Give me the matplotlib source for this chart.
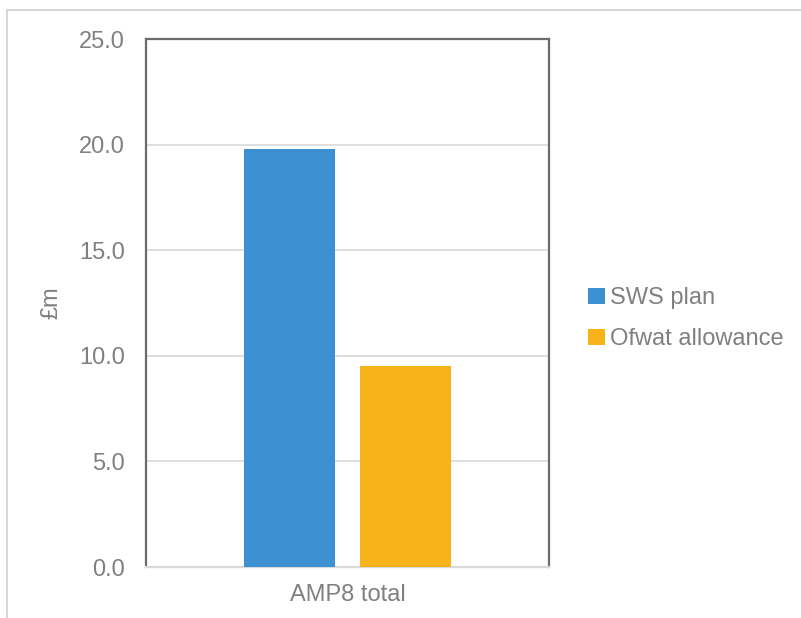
import matplotlib.pyplot as plt
from matplotlib.lines import Line2D

plt.rcParams['font.family'] = ['Liberation Sans', 'DejaVu Sans']

# data
CATEGORIES = ["AMP8 total"]
SERIES = ["SWS plan", "Ofwat allowance"]
VALUES = [[19.8], [9.5]]
COLORS = ["#3D91D2", "#F9B31A"]
YTICKS = [0, 5, 10, 15, 20, 25]

GREY = "#808080"

fig = plt.figure(figsize=(8.01, 6.18), dpi=100)
ax = fig.add_axes([146 / 801, 1 - 567 / 618, 403 / 801, 528 / 618])

# outer chart-area frame (partly visible)
fig.add_artist(Line2D([7 / 801, 1], [1 - 10 / 618, 1 - 10 / 618],
                      transform=fig.transFigure, color="#d0d0d0", lw=1.2))
fig.add_artist(Line2D([7 / 801, 7 / 801], [0, 1 - 10 / 618],
                      transform=fig.transFigure, color="#d0d0d0", lw=1.2))

width = 0.226
offsets = [-0.143, 0.143]
for i, name in enumerate(SERIES):
    xs = [j + offsets[i] for j in range(len(CATEGORIES))]
    ax.bar(xs, VALUES[i], width=width, color=COLORS[i], label=name, zorder=3)

ax.set_xlim(-0.5, len(CATEGORIES) - 0.5)
ax.set_ylim(0, 25)
ax.set_yticks(YTICKS)
ax.set_yticklabels([f"{v:.1f}" for v in YTICKS])
ax.set_xticks(range(len(CATEGORIES)))
ax.set_xticklabels(CATEGORIES)
ax.tick_params(axis="both", length=0, labelsize=17, colors=GREY)
ax.tick_params(axis="y", pad=15)
ax.tick_params(axis="x", pad=12)

ax.grid(axis="y", color="#d9d9d9", lw=1.2, zorder=0)
ax.set_axisbelow(True)

for side in ["left", "right", "top"]:
    ax.spines[side].set_color("#6b6b6b")
    ax.spines[side].set_linewidth(1.6)
ax.spines["bottom"].set_color("#d9d9d9")
ax.spines["bottom"].set_linewidth(1.6)

ax.set_ylabel("£m", fontsize=17, color=GREY)
ax.yaxis.set_label_coords(-84 / 403, 0.5)

leg = ax.legend(loc="center left", bbox_to_anchor=(1.045, 0.47), frameon=False,
                fontsize=17, handlelength=0.7, handleheight=0.7,
                handletextpad=0.2, labelspacing=0.8, labelcolor=GREY)

fig.savefig("out.png", dpi=100)
